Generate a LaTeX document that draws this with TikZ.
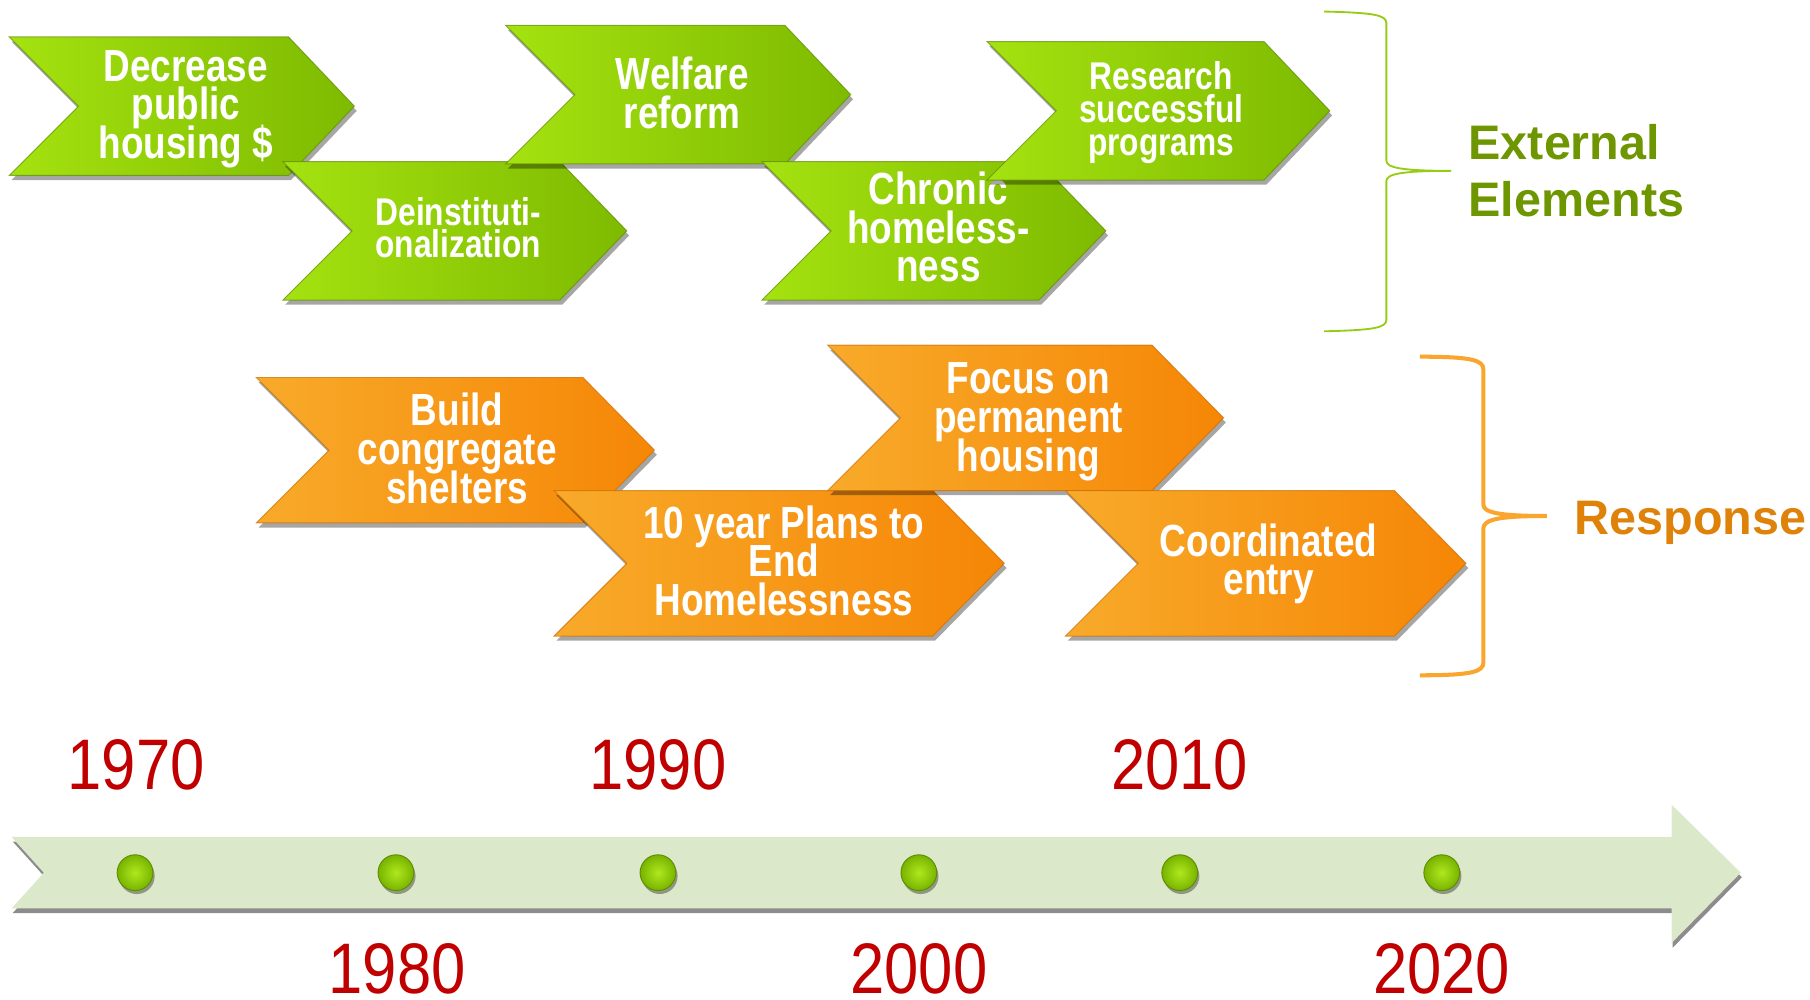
\documentclass[tikz,border=0pt]{standalone}
\usepackage{fontspec}
\setmainfont{Liberation Sans}
\newfontfamily\narrowfont[FakeStretch=0.82]{Liberation Sans}
\newfontfamily\yearfont[FakeStretch=0.86]{Liberation Sans}
\usetikzlibrary{shadows}
\lineskiplimit=-100pt
\definecolor{gA}{RGB}{164,226,16}
\definecolor{gB}{RGB}{126,186,0}
\definecolor{gEdge}{RGB}{95,140,0}
\definecolor{oA}{RGB}{248,170,42}
\definecolor{oB}{RGB}{246,134,6}
\definecolor{oEdge}{RGB}{205,110,0}
\definecolor{band}{RGB}{220,232,202}
\definecolor{yearred}{RGB}{192,0,0}
\definecolor{extgreen}{RGB}{110,150,0}
\definecolor{resporange}{RGB}{222,130,10}
\definecolor{bracegreen}{RGB}{150,205,20}
\definecolor{braceorange}{RGB}{250,165,45}
\definecolor{dotA}{RGB}{175,232,30}
\definecolor{dotB}{RGB}{120,180,0}
\tikzset{
  x=1pt, y=-1pt,
  shad/.style={drop shadow={shadow xshift=2pt, shadow yshift=-4pt, opacity=0.35, fill=black}},
  gchev/.style={left color=gA, right color=gB, draw=gEdge, draw opacity=0.7, line width=0.8pt, shad},
  ochev/.style={left color=oA, right color=oB, draw=oEdge, draw opacity=0.7, line width=0.8pt, shad},
  bigtxt/.style={text=white, font=\narrowfont\bfseries\fontsize{39}{33.5}\selectfont, align=center, inner sep=0pt},
  smalltxt/.style={text=white, font=\narrowfont\bfseries\fontsize{33.5}{28.5}\selectfont, align=center, inner sep=0pt},
  yeartxt/.style={text=yearred, font=\yearfont\fontsize{62}{62}\selectfont, inner sep=0pt},
  dotnode/.style={circle, minimum size=31pt, inner sep=0pt, inner color=dotA, outer color=dotB, draw=gEdge, line width=0.8pt,
    drop shadow={shadow xshift=1.5pt, shadow yshift=-3pt, opacity=0.35, fill=black}},
  labeltxt/.style={font=\bfseries\fontsize{42}{49}\selectfont, inner sep=0pt, align=left}
}
\begin{document}
\begin{tikzpicture}
\useasboundingbox (0,0) rectangle (1568,866);

% ---------- External elements (green) ----------
\path[gchev] (8,32) -- (250,32) -- (307,92) -- (250,152) -- (8,152) -- (68,92) -- cycle;
\node[bigtxt] (t1) at (161,94.6) {Decrease\\public\\housing \$};

\path[gchev] (245,140) -- (485,140) -- (543,200) -- (485,260) -- (245,260) -- (305,200) -- cycle;
\node[smalltxt] (t2) at (397,197.2) {Deinstituti-\\onalization};

\path[gchev] (438,22) -- (680,22) -- (737,82) -- (680,142) -- (438,142) -- (498,82) -- cycle;
\node[bigtxt] (t3) at (591,80.5) {Welfare\\reform};

\path[gchev] (660,140) -- (900,140) -- (958,200) -- (900,260) -- (660,260) -- (720,200) -- cycle;
\node[bigtxt] (t4) at (813,196.6) {Chronic\\homeless-\\ness};

\path[gchev] (855,36) -- (1095,36) -- (1152,96) -- (1095,156) -- (855,156) -- (915,96) -- cycle;
\node[smalltxt] (t5) at (1006,97.7) {Research\\successful\\programs};

% ---------- Response (orange) ----------
\path[ochev] (222,327) -- (505,327) -- (567,390) -- (505,453) -- (222,453) -- (285,390) -- cycle;
\node[bigtxt] (t6) at (396,388.4) {Build\\congregate\\shelters};

\path[ochev] (480,425) -- (808,425) -- (870,488) -- (808,551) -- (480,551) -- (543,488) -- cycle;
\node[bigtxt] (t7) at (679,485.7) {10 year Plans to\\End\\Homelessness};

\path[ochev] (717,299) -- (998,299) -- (1060,362) -- (998,425) -- (717,425) -- (780,362) -- cycle;
\node[bigtxt] (t8) at (891,365.4) {Focus on\\permanent\\housing};

\path[ochev] (923,425) -- (1208,425) -- (1270,488) -- (1208,551) -- (923,551) -- (986,488) -- cycle;
\node[bigtxt] (t9) at (1099,488.4) {Coordinated\\entry};

% ---------- Braces ----------
\draw[bracegreen, line width=1.6pt]
  (1147,10) .. controls (1190,11) and (1201,13) .. (1201,20) -- (1201,139)
  .. controls (1201,145) and (1212,148) .. (1257,148)
  .. controls (1212,148) and (1201,151) .. (1201,157) -- (1201,277)
  .. controls (1201,284) and (1190,286) .. (1147,287);
\node[labeltxt, text=extgreen, anchor=west] (ext) at (1272,148) {External\\Elements};

\draw[braceorange, line width=3.5pt]
  (1230,309) .. controls (1275,309) and (1285,312) .. (1285,320) -- (1285,437)
  .. controls (1285,444) and (1298,447) .. (1340,447)
  .. controls (1298,447) and (1285,450) .. (1285,458) -- (1285,574)
  .. controls (1285,582) and (1275,585) .. (1230,585);
\node[labeltxt, text=resporange, anchor=west] (resp) at (1364,453) {Response};

% ---------- Timeline ----------
\path[fill=band, drop shadow={shadow xshift=1pt, shadow yshift=-4pt, opacity=0.45, fill=black}]
  (10,725) -- (1448,725) -- (1448,697) -- (1508,756) -- (1448,817) -- (1448,787)
  -- (10,787) -- (38,756) -- cycle;

\node[dotnode] (d1) at (117,756) {};
\node[dotnode] (d2) at (343,756) {};
\node[dotnode] (d3) at (570,756) {};
\node[dotnode] (d4) at (796,756) {};
\node[dotnode] (d5) at (1022,756) {};
\node[dotnode] (d6) at (1249,756) {};

\node[yeartxt] (y1970) at (118,663) {1970};
\node[yeartxt] (y1990) at (570,663) {1990};
\node[yeartxt] (y2010) at (1022,663) {2010};
\node[yeartxt] (y1980) at (344,839) {1980};
\node[yeartxt] (y2000) at (796,839) {2000};
\node[yeartxt] (y2020) at (1249,839) {2020};
\end{tikzpicture}
\end{document}
